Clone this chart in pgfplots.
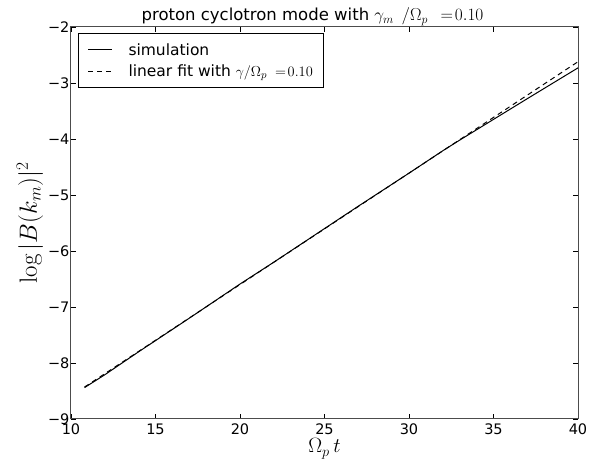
\documentclass[border=0pt]{standalone}
\usepackage{pgfplots}
\pgfplotsset{compat=1.18}
\usepackage[no-math]{fontspec}
\setmainfont{DejaVu Sans}
\begin{document}
\begin{tikzpicture}
\begin{axis}[
    name=ax,
    scale only axis,
    width=507pt, height=392pt,
    xmin=10, xmax=40, ymin=-9, ymax=-2,
    xtick={10,15,...,40},
    ytick={-9,-8,-7,-6,-5,-4,-3,-2},
    yticklabels={−9,−8,−7,−6,−5,−4,−3,−2},
    /pgf/number format/assume math mode=true,
    tick align=inside,
    major tick length=5pt,
    tick style={black, line width=0.8pt},
    axis line style={line width=1pt, black!70},
    ticklabel style={font=\fontsize{14.5}{17}\selectfont},
    xticklabel style={yshift=-1.5pt},
    yticklabel style={xshift=2pt},
    xlabel={$\Omega_p\, t$},
    ylabel={$\log|B(k_m)|^2$},
    xlabel style={font=\fontsize{20}{24}\selectfont, at={(axis description cs:0.5,0)}, anchor=base, yshift=-34pt},
    ylabel style={font=\fontsize{24}{28}\selectfont, at={(axis description cs:-0.081,0.5)}, anchor=center},
    legend style={at={(0.014,0.985)}, anchor=north west, draw=black, line width=0.8pt,
        font=\fontsize{15.5}{18}\selectfont, row sep=4pt, column sep=14pt,
        inner xsep=9pt, inner ysep=8pt},
    legend cell align=left,
    legend image code/.code={\draw[#1] (0pt,0pt) -- (24pt,0pt);},
]
\addplot[black, line width=1pt] coordinates {
(10.8,-8.44) (12,-8.21) (14,-7.80) (15,-7.60) (17,-7.20) (20,-6.59) (22,-6.20)
(25,-5.60) (27,-5.20) (30,-4.61) (32,-4.21) (33,-4.02) (35,-3.65) (37,-3.28) (40,-2.73)};
\addlegendentry{simulation}
\addplot[black, line width=1pt, dash pattern=on 5pt off 4pt] coordinates {
(10.8,-8.43) (40,-2.62)};
\addlegendentry{linear fit with $\gamma/\Omega_p\;=\!0.10$}
\end{axis}
\node[anchor=base, font=\fontsize{16.5}{18}\selectfont] at ([yshift=6pt,xshift=-12pt]ax.north)
    {proton cyclotron mode with $\gamma_m\;\,/\Omega_p\;\,=\!0.10$};
\path ([shift={(-71pt,-45pt)}]ax.south west) rectangle ([shift={(16pt,27pt)}]ax.north east);
\end{tikzpicture}
\end{document}
